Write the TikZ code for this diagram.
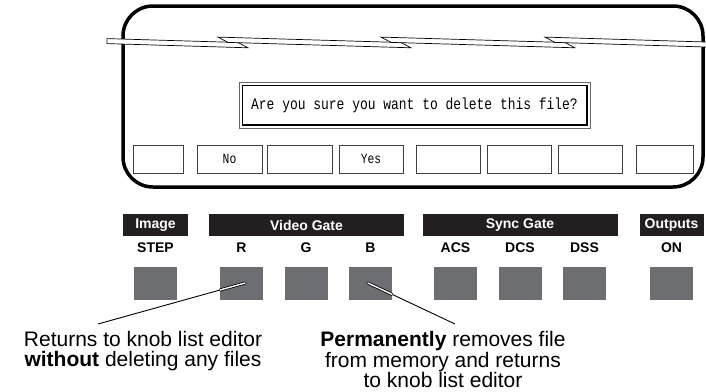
\documentclass[tikz,border=0pt]{standalone}
\usepackage{fontspec}
\setmainfont{Liberation Sans}
\newfontfamily\lcdfont[FakeStretch=0.81]{Liberation Mono}
\definecolor{KnobGray}{RGB}{109,110,113}
\definecolor{HeadBlack}{RGB}{35,31,32}

\begin{document}
\begin{tikzpicture}[
  x=1pt, y=-1pt,
  every node/.style={align=center, inner sep=0pt},
  head/.style={fill=HeadBlack, text=white, font=\fontsize{14}{16}\selectfont\bfseries, minimum height=22},
  knoblbl/.style={font=\fontsize{14}{16}\selectfont\bfseries},
  knob/.style={fill=KnobGray, minimum width=43, minimum height=33},
  softkey/.style={draw=black!75, line width=0.7pt, minimum height=28, font=\lcdfont\fontsize{14}{16}\selectfont},
  band/.style={fill=white, draw=black, line width=0.7pt},
  note/.style={font=\fontsize{21}{19.5}\selectfont},
  ptr/.style={line width=0.9pt},
  ptrin/.style={double=white, double distance=1.4pt, line width=0.8pt, line cap=round}
]
\useasboundingbox (0,0) rectangle (706,391);

% screen frame
\draw[line width=3.5pt, rounded corners=30pt] (123,6) rectangle (703,187);

% break line across the screen
\filldraw[band] (107,38.6) -- (238,42.5) -- (248,47.8) -- (107,43.6) -- cycle;
\filldraw[band] (218,37.1) -- (401,42.5) -- (411,47.8) -- (228,42.4) -- cycle;
\filldraw[band] (381,37.1) -- (565,42.5) -- (575,47.8) -- (391,42.4) -- cycle;
\filldraw[band] (545,37.1) -- (712,42.2) -- (712,47.2) -- (555,42.4) -- cycle;

% dialog
\node[draw=black!60, line width=0.7pt, minimum width=351, minimum height=46] (dlg) at (414.5,105) {};
\draw[line width=1.3pt] ([shift={(3.5,3.5)}]dlg.north west) rectangle ([shift={(-3.5,-3.5)}]dlg.south east);
\node[font=\lcdfont\fontsize{16}{18}\selectfont] (msg) at (dlg.center) {Are you sure you want to delete this file?};

% soft keys
\foreach \x/\w/\t [count=\i] in {158.5/50/, 229.5/65/No, 299.5/65/, 371/64/Yes, 448/64/, 519/64/, 590/64/, 664.5/57/}
  \node[softkey, minimum width=\w] (sk\i) at (\x,159) {\t};

% front panel groups
\node[head, minimum width=65] (himage) at (155.5,225) {Image};
\node[head, minimum width=195] (hvideo) at (306.5,225) {Video Gate};
\node[head, minimum width=195] (hsync) at (520,225) {Sync Gate};
\node[head, minimum width=64] (hout) at (671.5,225) {Outputs};

\foreach \x/\n/\t in {155.5/step/STEP, 241.5/r/R, 306/g/G, 370.5/b/B, 455.5/acs/ACS, 520/dcs/DCS, 584.5/dss/DSS, 671.5/on/ON} {
  \node[knoblbl] (l\n) at (\x,248) {\t};
  \node[knob] (k\n) at (\x,283.5) {};
}

% callouts
\node[note] (nono) at (143,351) {Returns to knob list editor\\\textbf{without} deleting any files};
\node[note] (noyes) at (443,359.5) {\textbf{Permanently} removes file\\from memory and returns\\to knob list editor};

\coordinate (rtip) at (245,283);
\coordinate (redge) at (220,290);
\coordinate (nopt) at (98,324);
\coordinate (btip) at (368,283);
\coordinate (bedge) at (392,294.3);
\coordinate (yespt) at (455,324);

\draw[ptr] (redge) -- (nopt);
\draw[ptrin] (rtip) -- (redge);
\draw[ptr] (bedge) -- (yespt);
\draw[ptrin] (btip) -- (bedge);
\end{tikzpicture}
\end{document}
